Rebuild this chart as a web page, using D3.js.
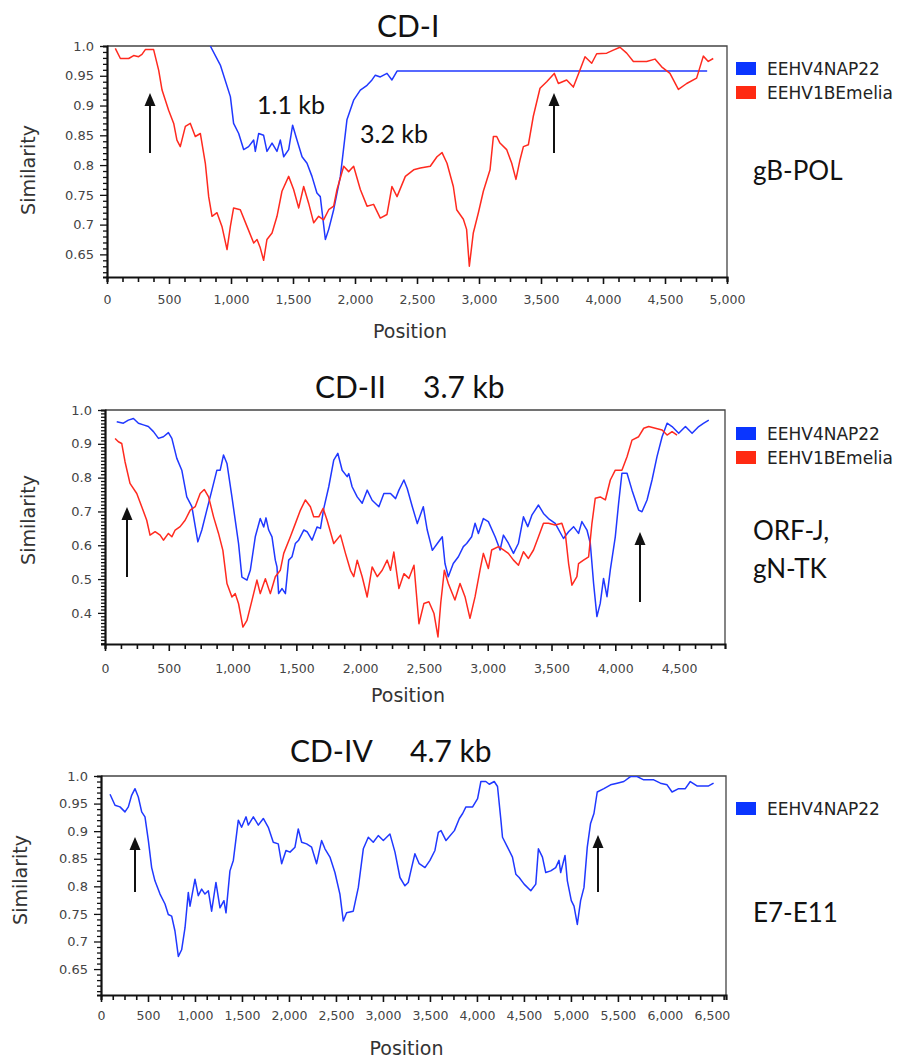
<!DOCTYPE html>
<html>
<head>
<meta charset="utf-8">
<script src="https://cdn.jsdelivr.net/npm/d3@7"></script>
<style>
  body { margin: 0; background: #fff; }
  svg { display: block; }
</style>
</head>
<body>
<div id="chart"></div>
<script>
// ---- data: [position, similarity] ----
const seriesNames = ["EEHV4NAP22", "EEHV1BEmelia"];

const cd1Nap22 = [[833,1.0],[914,0.968],[995,0.915],[1021,0.87],[1062,0.853],[1102,0.826],[1142,0.831],[1183,0.842],[1196,0.823],[1223,0.853],[1263,0.85],[1290,0.823],[1331,0.837],[1371,0.823],[1398,0.842],[1425,0.814],[1465,0.826],[1497,0.867],[1532,0.842],[1573,0.814],[1613,0.803],[1653,0.781],[1693,0.753],[1720,0.747],[1761,0.675],[1788,0.692],[1828,0.725],[1882,0.781],[1935,0.876],[1989,0.909],[2043,0.926],[2097,0.934],[2137,0.943],[2164,0.951],[2204,0.948],[2258,0.954],[2298,0.943],[2339,0.958],[4840,0.958]];

const cd1Emelia = [[67,0.996],[108,0.979],[175,0.979],[215,0.984],[255,0.982],[282,0.986],[309,0.994],[376,0.994],[417,0.959],[444,0.926],[497,0.892],[538,0.87],[564,0.842],[591,0.831],[632,0.865],[672,0.87],[712,0.848],[753,0.853],[793,0.803],[820,0.747],[847,0.714],[887,0.72],[927,0.697],[968,0.658],[995,0.697],[1021,0.728],[1075,0.725],[1129,0.697],[1183,0.669],[1210,0.675],[1236,0.661],[1263,0.64],[1290,0.675],[1331,0.686],[1371,0.714],[1411,0.756],[1465,0.781],[1505,0.759],[1546,0.728],[1586,0.764],[1626,0.736],[1667,0.703],[1707,0.714],[1747,0.708],[1788,0.725],[1828,0.731],[1855,0.759],[1909,0.798],[1949,0.789],[1989,0.798],[2043,0.759],[2097,0.731],[2150,0.734],[2204,0.711],[2258,0.717],[2298,0.764],[2339,0.747],[2406,0.781],[2473,0.792],[2527,0.795],[2607,0.798],[2661,0.814],[2702,0.821],[2742,0.803],[2793,0.764],[2820,0.725],[2874,0.709],[2900,0.692],[2922,0.63],[2954,0.686],[2995,0.72],[3035,0.756],[3089,0.792],[3116,0.848],[3143,0.848],[3169,0.837],[3223,0.826],[3264,0.803],[3298,0.776],[3331,0.809],[3358,0.831],[3398,0.834],[3438,0.882],[3492,0.929],[3546,0.94],[3607,0.954],[3640,0.937],[3707,0.943],[3761,0.931],[3815,0.96],[3855,0.982],[3909,0.971],[3949,0.987],[4030,0.988],[4083,0.993],[4137,0.998],[4191,0.988],[4245,0.974],[4352,0.974],[4419,0.978],[4473,0.965],[4540,0.954],[4608,0.927],[4675,0.937],[4755,0.946],[4809,0.983],[4849,0.974],[4889,0.979]];

const cd2Nap22 = [[92,0.965],[144,0.961],[183,0.97],[223,0.975],[262,0.961],[301,0.956],[340,0.951],[380,0.936],[419,0.916],[458,0.921],[497,0.933],[524,0.916],[563,0.857],[602,0.822],[641,0.743],[681,0.714],[728,0.61],[759,0.645],[798,0.704],[838,0.763],[877,0.822],[903,0.822],[929,0.867],[956,0.842],[995,0.743],[1047,0.605],[1073,0.506],[1113,0.497],[1139,0.526],[1178,0.625],[1217,0.679],[1244,0.654],[1262,0.681],[1283,0.645],[1309,0.625],[1335,0.556],[1348,0.536],[1361,0.457],[1388,0.472],[1414,0.457],[1440,0.556],[1466,0.566],[1492,0.605],[1518,0.615],[1558,0.645],[1584,0.64],[1623,0.615],[1662,0.654],[1689,0.65],[1715,0.709],[1754,0.773],[1793,0.852],[1825,0.872],[1859,0.822],[1898,0.803],[1911,0.812],[1937,0.773],[1977,0.743],[2016,0.724],[2055,0.763],[2094,0.733],[2147,0.714],[2186,0.753],[2238,0.753],[2278,0.738],[2304,0.763],[2343,0.793],[2369,0.768],[2409,0.714],[2448,0.664],[2495,0.714],[2526,0.645],[2566,0.585],[2605,0.605],[2644,0.625],[2665,0.546],[2691,0.507],[2730,0.546],[2770,0.566],[2809,0.596],[2835,0.605],[2874,0.625],[2901,0.665],[2927,0.635],[2966,0.679],[3005,0.67],[3058,0.625],[3097,0.586],[3123,0.63],[3162,0.606],[3202,0.576],[3241,0.606],[3280,0.684],[3314,0.655],[3346,0.689],[3398,0.719],[3437,0.694],[3476,0.679],[3529,0.665],[3594,0.62],[3634,0.64],[3673,0.655],[3712,0.635],[3738,0.67],[3778,0.645],[3804,0.606],[3830,0.487],[3856,0.389],[3882,0.428],[3908,0.502],[3935,0.448],[3961,0.527],[4000,0.625],[4026,0.724],[4052,0.813],[4092,0.813],[4131,0.763],[4183,0.704],[4209,0.699],[4249,0.734],[4288,0.793],[4327,0.862],[4367,0.921],[4406,0.961],[4445,0.951],[4497,0.931],[4550,0.951],[4602,0.931],[4654,0.951],[4694,0.961],[4733,0.97]];

const cd2Emelia = [[79,0.916],[105,0.906],[131,0.901],[157,0.847],[196,0.783],[249,0.753],[288,0.714],[327,0.674],[353,0.63],[393,0.64],[432,0.63],[458,0.615],[497,0.635],[524,0.625],[550,0.645],[589,0.655],[628,0.674],[668,0.704],[707,0.714],[746,0.753],[778,0.765],[812,0.743],[851,0.684],[890,0.635],[924,0.585],[956,0.487],[995,0.447],[1021,0.457],[1047,0.427],[1081,0.358],[1113,0.378],[1152,0.437],[1191,0.497],[1217,0.457],[1257,0.501],[1296,0.457],[1335,0.507],[1374,0.526],[1401,0.576],[1453,0.625],[1492,0.664],[1532,0.704],[1571,0.734],[1610,0.714],[1636,0.684],[1676,0.684],[1710,0.709],[1741,0.674],[1793,0.605],[1846,0.63],[1885,0.576],[1924,0.526],[1950,0.507],[1977,0.556],[2016,0.507],[2055,0.447],[2094,0.536],[2134,0.507],[2173,0.526],[2212,0.556],[2238,0.526],[2264,0.58],[2304,0.472],[2343,0.516],[2382,0.502],[2422,0.541],[2461,0.368],[2500,0.428],[2539,0.433],[2579,0.398],[2610,0.329],[2632,0.43],[2660,0.526],[2691,0.487],[2743,0.438],[2783,0.487],[2822,0.448],[2861,0.384],[2901,0.448],[2940,0.527],[2966,0.576],[3005,0.531],[3031,0.586],[3084,0.596],[3123,0.586],[3162,0.576],[3202,0.556],[3241,0.541],[3280,0.581],[3319,0.561],[3359,0.586],[3398,0.625],[3437,0.665],[3476,0.665],[3529,0.66],[3581,0.665],[3608,0.635],[3634,0.546],[3660,0.482],[3699,0.507],[3712,0.546],[3751,0.556],[3791,0.566],[3817,0.665],[3843,0.739],[3882,0.743],[3922,0.734],[3961,0.793],[4000,0.822],[4052,0.822],[4092,0.862],[4131,0.911],[4183,0.921],[4223,0.946],[4262,0.951],[4314,0.946],[4367,0.941],[4406,0.926],[4445,0.936],[4484,0.926]];

const cd4Nap22 = [[96,0.967],[149,0.947],[202,0.944],[255,0.935],[291,0.944],[326,0.965],[362,0.977],[397,0.962],[433,0.935],[468,0.926],[504,0.883],[539,0.834],[574,0.81],[628,0.786],[681,0.768],[716,0.749],[752,0.746],[787,0.719],[823,0.673],[858,0.685],[894,0.725],[929,0.789],[947,0.764],[1000,0.813],[1035,0.783],[1071,0.795],[1106,0.786],[1142,0.792],[1177,0.755],[1223,0.807],[1266,0.761],[1308,0.774],[1330,0.752],[1372,0.828],[1408,0.847],[1461,0.92],[1496,0.907],[1543,0.926],[1567,0.911],[1621,0.926],[1674,0.911],[1727,0.923],[1780,0.907],[1833,0.88],[1886,0.877],[1922,0.841],[1968,0.865],[2011,0.862],[2064,0.871],[2099,0.904],[2135,0.88],[2188,0.877],[2241,0.871],[2294,0.841],[2347,0.883],[2383,0.868],[2436,0.853],[2489,0.825],[2542,0.786],[2578,0.737],[2613,0.752],[2684,0.755],[2738,0.798],[2791,0.868],[2844,0.889],[2897,0.88],[2950,0.892],[3004,0.883],[3074,0.895],[3128,0.862],[3181,0.816],[3234,0.801],[3269,0.807],[3305,0.834],[3340,0.859],[3386,0.841],[3447,0.834],[3500,0.847],[3553,0.865],[3589,0.898],[3618,0.901],[3671,0.883],[3760,0.901],[3813,0.923],[3848,0.932],[3883,0.944],[3954,0.944],[4007,0.959],[4042,0.99],[4095,0.99],[4131,0.985],[4184,0.99],[4219,0.981],[4255,0.92],[4272,0.889],[4325,0.871],[4378,0.853],[4414,0.822],[4449,0.816],[4502,0.804],[4573,0.792],[4626,0.804],[4654,0.868],[4697,0.853],[4732,0.825],[4785,0.828],[4838,0.834],[4873,0.847],[4891,0.825],[4937,0.856],[4962,0.81],[5004,0.774],[5033,0.764],[5068,0.731],[5103,0.774],[5139,0.798],[5174,0.871],[5209,0.914],[5245,0.932],[5280,0.971],[5351,0.977],[5422,0.984],[5492,0.987],[5563,0.99],[5634,0.999],[5704,0.999],[5775,0.993],[5881,0.993],[5952,0.987],[6023,0.984],[6076,0.971],[6146,0.977],[6217,0.977],[6270,0.99],[6341,0.982],[6412,0.982],[6465,0.982],[6518,0.987]];

// titles / labels
const titles = [["CD-I"], ["CD-II", "3.7 kb"], ["CD-IV", "4.7 kb"]];
const regionLabels = [["gB-POL"], ["ORF-J,", "gN-TK"], ["E7-E11"]];

const colors = { blue: "#2038ff", red: "#ff2a1f" };

const panels = [
  { x0: 107, x1: 727, y0: 46, y1: 277, xMax: 5000, yMin: 0.612, yMajor: 5,
    series: [[cd1Nap22, colors.blue], [cd1Emelia, colors.red]],
    title: titles[0], titleX: [377], titleY: 37,
    legendY: 62, labelY: 180, ylabY: 170, ylabX: 28, posY: 338, tickPad: 13,
    arrows: [[150, 153, 93], [554, 153, 93]] },
  { x0: 105, x1: 725, y0: 410, y1: 644, xMax: 4860, yMin: 0.308, yMajor: 10,
    series: [[cd2Nap22, colors.blue], [cd2Emelia, colors.red]],
    title: titles[1], titleX: [315, 423], titleY: 398,
    legendY: 427, labelY: 540, ylabY: 520, ylabX: 28, posY: 702, tickPad: 15,
    arrows: [[127, 577, 507], [640, 602, 532]] },
  { x0: 101, x1: 726, y0: 776, y1: 995, xMax: 6650, yMin: 0.603, yMajor: 5,
    series: [[cd4Nap22, colors.blue]],
    title: titles[2], titleX: [290, 410], titleY: 762,
    legendY: 802, labelY: 922, ylabY: 880, ylabX: 20, posY: 1055, tickPad: 11,
    arrows: [[135, 892, 837], [598, 892, 835]] }
];

const svg = d3.select("#chart").append("svg")
  .attr("width", 905).attr("height", 1058);
const defs = svg.append("defs");

panels.forEach((p, i) => {
  const g = svg.append("g");
  const x = d3.scaleLinear().domain([0, p.xMax]).range([p.x0, p.x1]);
  const y = d3.scaleLinear().domain([p.yMin, 1]).range([p.y1, p.y0]);

  // clip for the lines
  const clipId = "clip" + i;
  defs.append("clipPath").attr("id", clipId)
    .append("rect").attr("x", p.x0).attr("y", p.y0)
    .attr("width", p.x1 - p.x0).attr("height", p.y1 - p.y0);

  // frame (top + right)
  g.append("path")
    .attr("d", `M${p.x0},${p.y0}H${p.x1}V${p.y1}`)
    .attr("fill", "none").attr("stroke", "#444").attr("stroke-width", 1.3);

  // lines
  const line = d3.line().x(d => x(d[0])).y(d => y(d[1]));
  g.append("g").attr("clip-path", `url(#${clipId})`)
    .selectAll("path").data(p.series).join("path")
    .attr("d", d => line(d[0]))
    .attr("fill", "none").attr("stroke", d => d[1])
    .attr("stroke-width", 1.5).attr("stroke-linejoin", "round");

  // x axis
  const xTicks = d3.range(0, p.xMax + 1, 125);
  const xAxis = g.append("g").attr("transform", `translate(0,${p.y1})`)
    .call(d3.axisBottom(x).tickValues(xTicks).tickSize(5).tickPadding(p.tickPad)
      .tickFormat(d => d % 500 === 0 ? d3.format(",")(d) : ""));
  xAxis.select(".domain").attr("stroke", "#111").attr("stroke-width", 2.2);
  xAxis.selectAll(".tick line").attr("stroke", "#111").attr("stroke-width", 1.6)
    .attr("y2", d => d % 500 === 0 ? 7 : 5);
  xAxis.selectAll("text").attr("font-family", "DejaVu Sans")
    .attr("font-size", 12.5).attr("fill", "#444");

  // y axis
  const yTicks = d3.range(Math.ceil(p.yMin * 100), 101).map(v => v / 100);
  const yAxis = g.append("g").attr("transform", `translate(${p.x0},0)`)
    .call(d3.axisLeft(y).tickValues(yTicks).tickSize(4).tickPadding(9)
      .tickFormat(d => {
        const k = Math.round(d * 100);
        if (k % p.yMajor !== 0) return "";
        return k === 100 ? "1.0" : String(+d.toFixed(2));
      }));
  yAxis.select(".domain").attr("stroke", "#111").attr("stroke-width", 2.2);
  yAxis.selectAll(".tick line").attr("stroke", "#111").attr("stroke-width", 1.3)
    .attr("x2", d => Math.round(d * 100) % p.yMajor === 0 ? -7 : -4);
  yAxis.selectAll("text").attr("font-family", "DejaVu Sans")
    .attr("font-size", 13).attr("fill", "#444");

  // axis titles
  g.append("text")
    .attr("transform", `translate(${p.ylabX},${p.ylabY}) rotate(-90)`)
    .attr("text-anchor", "middle").attr("dy", "0.35em")
    .attr("font-family", "DejaVu Sans").attr("font-size", 19).attr("fill", "#333")
    .text("Similarity");
  g.append("text")
    .attr("x", (p.x0 + p.x1) / 2 - 7).attr("y", p.posY)
    .attr("text-anchor", "middle")
    .attr("font-family", "DejaVu Sans").attr("font-size", 19).attr("fill", "#333")
    .text("Position");

  // title
  const t = g.append("text").attr("y", p.titleY)
    .attr("font-family", "Lato").attr("font-size", 30).attr("fill", "#111");
  p.title.forEach((s, j) => t.append("tspan").attr("x", p.titleX[j]).text(s));

  // legend
  const leg = g.append("g").selectAll("g").data(p.series).join("g")
    .attr("transform", (d, j) => `translate(736,${p.legendY + j * 24})`);
  leg.append("rect").attr("width", 20).attr("height", 13)
    .attr("fill", d => d[1] === colors.blue ? "#0a35ff" : "#ff2a12");
  leg.append("text").attr("x", 31).attr("y", 13)
    .attr("font-family", "DejaVu Sans").attr("font-size", 17).attr("fill", "#222")
    .text((d, j) => seriesNames[j]);

  // region label
  regionLabels[i].forEach((s, j) => {
    g.append("text").attr("x", 753).attr("y", p.labelY + j * 38)
      .attr("font-family", "Lato").attr("font-size", 26).attr("fill", "#111")
      .text(s);
  });

  // arrows: shaft + filled head
  p.arrows.forEach(([ax, yBottom, yTip]) => {
    g.append("line").attr("x1", ax).attr("x2", ax)
      .attr("y1", yBottom).attr("y2", yTip + 10)
      .attr("stroke", "#111").attr("stroke-width", 2);
    g.append("path")
      .attr("d", `M${ax - 5.5},${yTip + 13}L${ax},${yTip}L${ax + 5.5},${yTip + 13}Z`)
      .attr("fill", "#111");
  });
});

// kb annotations in the first panel
svg.append("text").attr("x", 257).attr("y", 114)
  .attr("font-family", "Lato").attr("font-size", 25).attr("fill", "#111").text("1.1 kb");
svg.append("text").attr("x", 360).attr("y", 143)
  .attr("font-family", "Lato").attr("font-size", 25).attr("fill", "#111").text("3.2 kb");
</script>
</body>
</html>
